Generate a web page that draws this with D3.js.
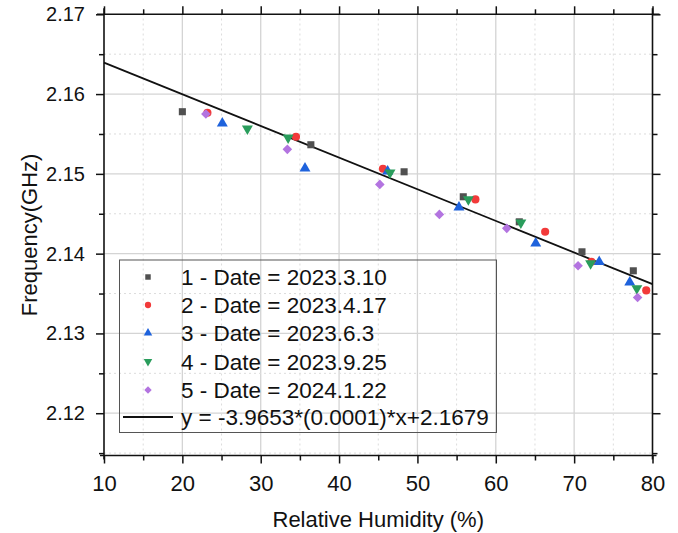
<!DOCTYPE html>
<html>
<head>
<meta charset="utf-8">
<script src="https://cdn.jsdelivr.net/npm/d3@7"></script>
<style>
  body { margin: 0; background: #fff; }
  text { font-family: Arial, "Liberation Sans", sans-serif; fill: #111; }
</style>
</head>
<body>
<div id="chart"></div>
<script>
// data
var dates = ["2023.3.10", "2023.4.17", "2023.6.3", "2023.9.25", "2024.1.22"];
var rh1 = [20.0, 36.4, 48.3, 55.85, 63.0, 71.0, 77.55];
var f1 = [2.15779, 2.15365, 2.15026, 2.14713, 2.14399, 2.14023, 2.13785];
var rh2 = [23.2, 34.5, 45.6, 57.4, 66.3, 72.2, 79.2];
var f2 = [2.15766, 2.15465, 2.15064, 2.14680, 2.14274, 2.13898, 2.13539];
var rh3 = [25.1, 35.65, 46.2, 55.3, 65.1, 73.2, 77.1];
var f3 = [2.15633, 2.15069, 2.15031, 2.14580, 2.14129, 2.13898, 2.13639];
var rh4 = [28.3, 33.5, 46.5, 56.5, 63.2, 72.1, 78.0];
var f4 = [2.15566, 2.15453, 2.15014, 2.14680, 2.14387, 2.13878, 2.13564];
var rh5 = [23.0, 33.4, 45.2, 52.8, 61.4, 70.5, 78.1];
var f5 = [2.15750, 2.15307, 2.14868, 2.14492, 2.14317, 2.13848, 2.13451];
var fitSlope = -3.9653e-4;
var fitIntercept = 2.1679;
var fitLabel = "y = -3.9653*(0.0001)*x+2.1679";
var xTicks = [10, 20, 30, 40, 50, 60, 70, 80];
var yTicks = [2.12, 2.13, 2.14, 2.15, 2.16, 2.17];

var width = 678, height = 533;
var margin = {top: 14.3, right: 25.5, bottom: 77.5, left: 104};

var series = [
  {name: "1 - Date = " + dates[0], x: rh1, y: f1, color: "#505050", sym: d3.symbolSquare, rot: 0, size: 50},
  {name: "2 - Date = " + dates[1], x: rh2, y: f2, color: "#f23a3a", sym: d3.symbolCircle, rot: 0, size: 52},
  {name: "3 - Date = " + dates[2], x: rh3, y: f3, color: "#1e62dc", sym: d3.symbolTriangle, rot: 0, size: 52},
  {name: "4 - Date = " + dates[3], x: rh4, y: f4, color: "#2a9d5c", sym: d3.symbolTriangle, rot: 180, size: 52},
  {name: "5 - Date = " + dates[4], x: rh5, y: f5, color: "#b374e0", sym: d3.symbolSquare, rot: 45, size: 46}
];

var svg = d3.select("#chart").append("svg")
  .attr("width", width)
  .attr("height", height);

var xScale = d3.scaleLinear()
  .domain([10, 80])
  .range([margin.left, width - margin.right]);

var yScale = d3.scaleLinear()
  .domain([2.1147, 2.17])
  .range([height - margin.bottom, margin.top]);

var x0 = xScale.range()[0], x1 = xScale.range()[1];
var y0 = yScale.range()[0], y1 = yScale.range()[1];

var xMinor = d3.range(15, 80, 10);
var yMinor = d3.range(2.115, 2.17, 0.01);

// grid
var grid = svg.append("g");
grid.selectAll(".gx").data(xTicks.slice(1, -1)).enter().append("line")
  .attr("x1", function(d) { return xScale(d); })
  .attr("x2", function(d) { return xScale(d); })
  .attr("y1", y0).attr("y2", y1)
  .attr("stroke", "#d4d4d4").attr("stroke-width", 1.3);
grid.selectAll(".gy").data(yTicks.slice(0, -1)).enter().append("line")
  .attr("y1", function(d) { return yScale(d); })
  .attr("y2", function(d) { return yScale(d); })
  .attr("x1", x0).attr("x2", x1)
  .attr("stroke", "#d4d4d4").attr("stroke-width", 1.3);
grid.selectAll(".mx").data(xMinor).enter().append("line")
  .attr("x1", function(d) { return xScale(d); })
  .attr("x2", function(d) { return xScale(d); })
  .attr("y1", y0).attr("y2", y1)
  .attr("stroke", "#dcdcdc").attr("stroke-width", 1)
  .attr("stroke-dasharray", "2,3");
grid.selectAll(".my").data(yMinor).enter().append("line")
  .attr("y1", function(d) { return yScale(d); })
  .attr("y2", function(d) { return yScale(d); })
  .attr("x1", x0).attr("x2", x1)
  .attr("stroke", "#dcdcdc").attr("stroke-width", 1)
  .attr("stroke-dasharray", "2,3");

// axes (ticks outward on all sides)
function styleAxis(g) {
  g.select(".domain").remove();
  g.selectAll(".tick line").attr("stroke", "#111").attr("stroke-width", 1.5);
}

svg.append("g")
  .attr("transform", "translate(0," + y0 + ")")
  .call(d3.axisBottom(xScale).tickValues(xTicks).tickSize(8).tickPadding(12).tickFormat(d3.format("d")))
  .call(styleAxis)
  .selectAll("text").style("font-size", "22px").attr("fill", "#111");
svg.append("g")
  .attr("transform", "translate(0," + y0 + ")")
  .call(d3.axisBottom(xScale).tickValues(xMinor).tickSize(5).tickFormat(""))
  .call(styleAxis);

svg.append("g")
  .attr("transform", "translate(0," + y1 + ")")
  .call(d3.axisTop(xScale).tickValues(xTicks).tickSize(8).tickFormat(""))
  .call(styleAxis);
svg.append("g")
  .attr("transform", "translate(0," + y1 + ")")
  .call(d3.axisTop(xScale).tickValues(xMinor).tickSize(5).tickFormat(""))
  .call(styleAxis);

svg.append("g")
  .attr("transform", "translate(" + x0 + ",0)")
  .call(d3.axisLeft(yScale).tickValues(yTicks).tickSize(8).tickPadding(11).tickFormat(d3.format(".2f")))
  .call(styleAxis)
  .selectAll("text").style("font-size", "20px").attr("fill", "#111");
svg.append("g")
  .attr("transform", "translate(" + x0 + ",0)")
  .call(d3.axisLeft(yScale).tickValues(yMinor).tickSize(5).tickFormat(""))
  .call(styleAxis);

svg.append("g")
  .attr("transform", "translate(" + x1 + ",0)")
  .call(d3.axisRight(yScale).tickValues(yTicks).tickSize(8).tickFormat(""))
  .call(styleAxis);
svg.append("g")
  .attr("transform", "translate(" + x1 + ",0)")
  .call(d3.axisRight(yScale).tickValues(yMinor).tickSize(5).tickFormat(""))
  .call(styleAxis);

// frame
var frame = svg.append("g").attr("stroke", "#111").attr("stroke-width", 1.6);
frame.append("line").attr("x1", x0 - 7).attr("x2", x1 + 7).attr("y1", y1).attr("y2", y1);
frame.append("line").attr("x1", x0 - 4).attr("x2", x1 + 4).attr("y1", y0).attr("y2", y0);
frame.append("line").attr("x1", x0).attr("x2", x0).attr("y1", y1 - 6).attr("y2", y0 + 4);
frame.append("line").attr("x1", x1).attr("x2", x1).attr("y1", y1 - 6).attr("y2", y0 + 4);

// linear fit
svg.append("line")
  .attr("x1", xScale(10)).attr("y1", yScale(fitSlope * 10 + fitIntercept))
  .attr("x2", xScale(80)).attr("y2", yScale(fitSlope * 80 + fitIntercept))
  .attr("stroke", "#111").attr("stroke-width", 1.8);

// points
series.forEach(function(s) {
  var pts = s.x.map(function(v, i) { return [v, s.y[i]]; });
  svg.append("g").selectAll("path").data(pts).enter().append("path")
    .attr("d", d3.symbol().type(s.sym).size(s.size))
    .attr("transform", function(d) {
      return "translate(" + xScale(d[0]) + "," + yScale(d[1]) + ") rotate(" + s.rot + ")";
    })
    .attr("fill", s.color);
});

// legend
var legend = svg.append("g");
legend.append("rect")
  .attr("x", 119.5).attr("y", 260)
  .attr("width", 377).attr("height", 172.5)
  .attr("fill", "none").attr("stroke", "#555").attr("stroke-width", 1);

var rowY = [277, 305, 333, 361.5, 390, 417];
series.forEach(function(s, i) {
  legend.append("path")
    .attr("d", d3.symbol().type(s.sym).size(s.size * 0.6))
    .attr("transform", "translate(148," + rowY[i] + ") rotate(" + s.rot + ")")
    .attr("fill", s.color);
  legend.append("text")
    .attr("x", 181).attr("y", rowY[i])
    .attr("dy", "0.36em")
    .style("font-size", "22.5px")
    .text(s.name);
});
legend.append("line")
  .attr("x1", 123).attr("x2", 173)
  .attr("y1", rowY[5]).attr("y2", rowY[5])
  .attr("stroke", "#111").attr("stroke-width", 1.8);
legend.append("text")
  .attr("x", 181).attr("y", rowY[5])
  .attr("dy", "0.36em")
  .style("font-size", "22.5px")
  .text(fitLabel);

// axis titles
svg.append("text")
  .attr("x", (x0 + x1) / 2).attr("y", 527)
  .attr("text-anchor", "middle")
  .style("font-size", "22px")
  .text("Relative Humidity (%)");

svg.append("text")
  .attr("transform", "translate(37," + ((y0 + y1) / 2) + ") rotate(-90)")
  .attr("text-anchor", "middle")
  .style("font-size", "22px")
  .text("Frequency(GHz)");
</script>
</body>
</html>
